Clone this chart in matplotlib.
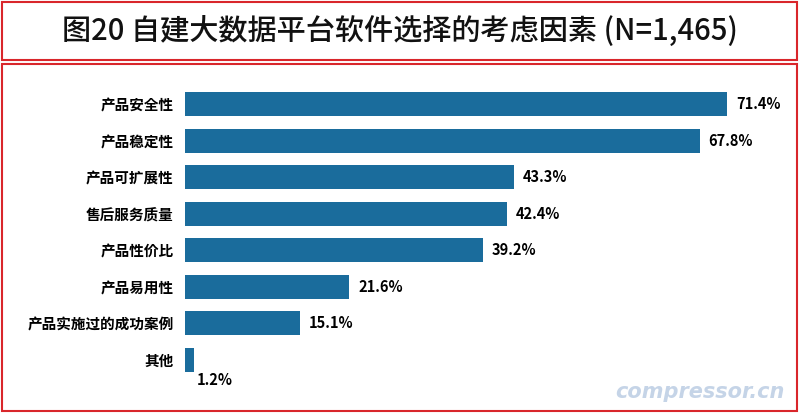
import matplotlib
matplotlib.use("Agg")
import matplotlib.pyplot as plt
from matplotlib.patches import Rectangle
from matplotlib import font_manager as fm

categories = ["产品安全性", "产品稳定性", "产品可扩展性", "售后服务质量", "产品性价比", "产品易用性", "产品实施过的成功案例", "其他"]
values = [71.4, 67.8, 43.3, 42.4, 39.2, 21.6, 15.1, 1.2]
title = "图20 自建大数据平台软件选择的考虑因素 (N=1,465)"

names = {f.name for f in fm.fontManager.ttflist}
cjk = [n for n in ["Noto Sans CJK SC", "Noto Sans CJK JP", "Noto Sans CJK TC", "Noto Sans CJK KR", "Noto Sans SC"] if n in names]
plt.rcParams["font.family"] = "sans-serif"
plt.rcParams["font.sans-serif"] = cjk + ["DejaVu Sans"]

W, H = 799, 413
fig = plt.figure(figsize=(W/100, H/100), dpi=100)
fig.patch.set_facecolor("white")
red = "#d9262b"
fig.patches.append(Rectangle((2/W, 1-60/H), 795/W, 58/H, transform=fig.transFigure, fill=False, ec=red, lw=1.5))
fig.patches.append(Rectangle((2/W, 2/H), 795/W, (411-64)/H, transform=fig.transFigure, fill=False, ec=red, lw=1.5))
fig.text(0.5, 1-31/H, title, ha="center", va="center", fontsize=21, fontweight="medium", color="#111")

ax = fig.add_axes([185/W, 1-378/H, 614/W, 292/H])
y = list(range(len(categories)))
ax.barh(y, values, height=0.66, color="#1a6c9c")
ax.set_xlim(0, 614/7.59)
ax.set_ylim(7.5, -0.5)
ax.set_yticks(y)
ax.set_yticklabels(categories, fontsize=10.5, fontweight="bold")
ax.tick_params(axis="y", length=0, pad=8)
ax.set_xticks([])
for s in ax.spines.values():
    s.set_visible(False)
for i, v in enumerate(values):
    if v < 5:
        ax.text(v + 0.3, i + 0.55, f"{v}%", ha="left", va="center", fontsize=10.5, fontweight="bold")
    else:
        ax.text(v + 1.2, i, f"{v}%", ha="left", va="center", fontsize=10.5, fontweight="bold")
fig.text(700/W, 1-392/H, "compressor.cn", ha="center", va="center", fontsize=15,
         fontstyle="italic", fontweight="bold", color="#9fb8d8", alpha=0.6, family="DejaVu Sans")
fig.savefig("out.png", dpi=100)
